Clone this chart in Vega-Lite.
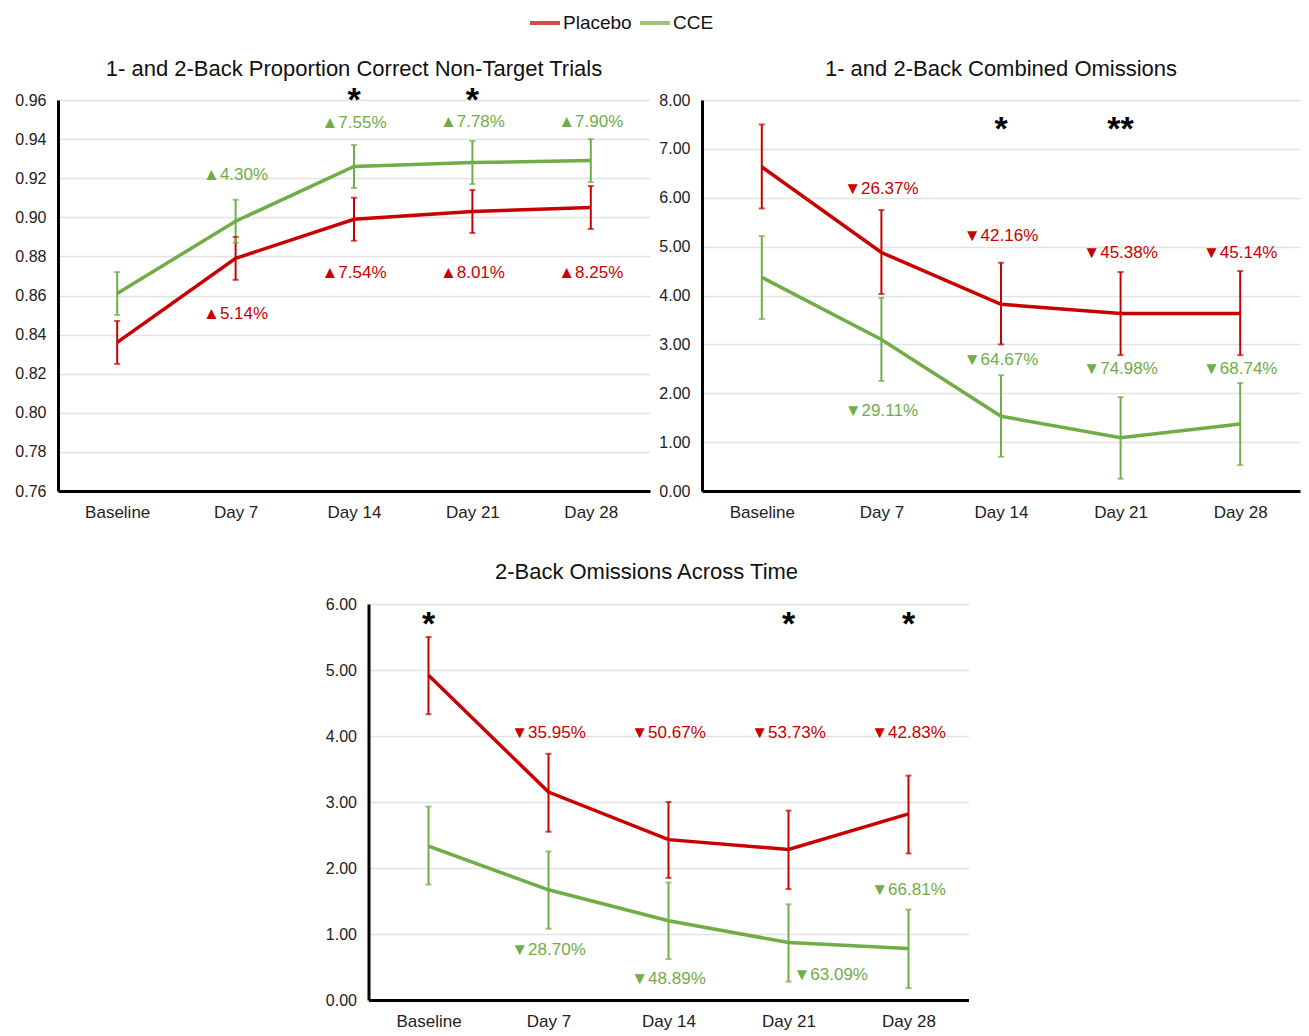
{
  "$schema": "https://vega.github.io/schema/vega-lite/v6.json",
  "background": "white",
  "padding": {"left": 13, "top": 6, "right": 5, "bottom": 5},
  "datasets": {
    "means": [
      {"panel": 1, "time": "Baseline", "group": "Placebo", "mean": 0.836, "lo": 0.825, "hi": 0.847},
      {"panel": 1, "time": "Day 7", "group": "Placebo", "mean": 0.879, "lo": 0.868, "hi": 0.890},
      {"panel": 1, "time": "Day 14", "group": "Placebo", "mean": 0.899, "lo": 0.888, "hi": 0.910},
      {"panel": 1, "time": "Day 21", "group": "Placebo", "mean": 0.903, "lo": 0.892, "hi": 0.914},
      {"panel": 1, "time": "Day 28", "group": "Placebo", "mean": 0.905, "lo": 0.894, "hi": 0.916},
      {"panel": 1, "time": "Baseline", "group": "CCE", "mean": 0.861, "lo": 0.850, "hi": 0.872},
      {"panel": 1, "time": "Day 7", "group": "CCE", "mean": 0.898, "lo": 0.887, "hi": 0.909},
      {"panel": 1, "time": "Day 14", "group": "CCE", "mean": 0.926, "lo": 0.915, "hi": 0.937},
      {"panel": 1, "time": "Day 21", "group": "CCE", "mean": 0.928, "lo": 0.917, "hi": 0.939},
      {"panel": 1, "time": "Day 28", "group": "CCE", "mean": 0.929, "lo": 0.918, "hi": 0.940},
      {"panel": 2, "time": "Baseline", "group": "Placebo", "mean": 6.63, "lo": 5.78, "hi": 7.50},
      {"panel": 2, "time": "Day 7", "group": "Placebo", "mean": 4.88, "lo": 4.03, "hi": 5.75},
      {"panel": 2, "time": "Day 14", "group": "Placebo", "mean": 3.82, "lo": 3.00, "hi": 4.67},
      {"panel": 2, "time": "Day 21", "group": "Placebo", "mean": 3.63, "lo": 2.78, "hi": 4.48},
      {"panel": 2, "time": "Day 28", "group": "Placebo", "mean": 3.63, "lo": 2.78, "hi": 4.50},
      {"panel": 2, "time": "Baseline", "group": "CCE", "mean": 4.37, "lo": 3.52, "hi": 5.22},
      {"panel": 2, "time": "Day 7", "group": "CCE", "mean": 3.10, "lo": 2.25, "hi": 3.95},
      {"panel": 2, "time": "Day 14", "group": "CCE", "mean": 1.53, "lo": 0.70, "hi": 2.37},
      {"panel": 2, "time": "Day 21", "group": "CCE", "mean": 1.09, "lo": 0.25, "hi": 1.92},
      {"panel": 2, "time": "Day 28", "group": "CCE", "mean": 1.37, "lo": 0.53, "hi": 2.21},
      {"panel": 3, "time": "Baseline", "group": "Placebo", "mean": 4.92, "lo": 4.33, "hi": 5.50},
      {"panel": 3, "time": "Day 7", "group": "Placebo", "mean": 3.15, "lo": 2.55, "hi": 3.73},
      {"panel": 3, "time": "Day 14", "group": "Placebo", "mean": 2.43, "lo": 1.85, "hi": 3.00},
      {"panel": 3, "time": "Day 21", "group": "Placebo", "mean": 2.28, "lo": 1.68, "hi": 2.87},
      {"panel": 3, "time": "Day 28", "group": "Placebo", "mean": 2.82, "lo": 2.22, "hi": 3.40},
      {"panel": 3, "time": "Baseline", "group": "CCE", "mean": 2.33, "lo": 1.75, "hi": 2.93},
      {"panel": 3, "time": "Day 7", "group": "CCE", "mean": 1.67, "lo": 1.08, "hi": 2.25},
      {"panel": 3, "time": "Day 14", "group": "CCE", "mean": 1.20, "lo": 0.62, "hi": 1.78},
      {"panel": 3, "time": "Day 21", "group": "CCE", "mean": 0.87, "lo": 0.28, "hi": 1.45},
      {"panel": 3, "time": "Day 28", "group": "CCE", "mean": 0.78, "lo": 0.18, "hi": 1.37}
    ],
    "labels": [
      {"panel": 1, "time": "Day 7", "group": "CCE", "label": "▲4.30%", "y": 0.9215, "side": "c"},
      {"panel": 1, "time": "Day 14", "group": "CCE", "label": "▲7.55%", "y": 0.948, "side": "c"},
      {"panel": 1, "time": "Day 21", "group": "CCE", "label": "▲7.78%", "y": 0.949, "side": "c"},
      {"panel": 1, "time": "Day 28", "group": "CCE", "label": "▲7.90%", "y": 0.9485, "side": "c"},
      {"panel": 1, "time": "Day 7", "group": "Placebo", "label": "▲5.14%", "y": 0.8505, "side": "c"},
      {"panel": 1, "time": "Day 14", "group": "Placebo", "label": "▲7.54%", "y": 0.8715, "side": "c"},
      {"panel": 1, "time": "Day 21", "group": "Placebo", "label": "▲8.01%", "y": 0.8715, "side": "c"},
      {"panel": 1, "time": "Day 28", "group": "Placebo", "label": "▲8.25%", "y": 0.8715, "side": "c"},
      {"panel": 2, "time": "Day 7", "group": "Placebo", "label": "▼26.37%", "y": 6.18, "side": "c"},
      {"panel": 2, "time": "Day 14", "group": "Placebo", "label": "▼42.16%", "y": 5.21, "side": "c"},
      {"panel": 2, "time": "Day 21", "group": "Placebo", "label": "▼45.38%", "y": 4.87, "side": "c"},
      {"panel": 2, "time": "Day 28", "group": "Placebo", "label": "▼45.14%", "y": 4.87, "side": "c"},
      {"panel": 2, "time": "Day 7", "group": "CCE", "label": "▼29.11%", "y": 1.64, "side": "c"},
      {"panel": 2, "time": "Day 14", "group": "CCE", "label": "▼64.67%", "y": 2.68, "side": "c"},
      {"panel": 2, "time": "Day 21", "group": "CCE", "label": "▼74.98%", "y": 2.49, "side": "c"},
      {"panel": 2, "time": "Day 28", "group": "CCE", "label": "▼68.74%", "y": 2.49, "side": "c"},
      {"panel": 3, "time": "Day 7", "group": "Placebo", "label": "▼35.95%", "y": 4.05, "side": "c"},
      {"panel": 3, "time": "Day 14", "group": "Placebo", "label": "▼50.67%", "y": 4.05, "side": "c"},
      {"panel": 3, "time": "Day 21", "group": "Placebo", "label": "▼53.73%", "y": 4.05, "side": "c"},
      {"panel": 3, "time": "Day 28", "group": "Placebo", "label": "▼42.83%", "y": 4.05, "side": "c"},
      {"panel": 3, "time": "Day 7", "group": "CCE", "label": "▼28.70%", "y": 0.76, "side": "c"},
      {"panel": 3, "time": "Day 14", "group": "CCE", "label": "▼48.89%", "y": 0.32, "side": "c"},
      {"panel": 3, "time": "Day 21", "group": "CCE", "label": "▼63.09%", "y": 0.38, "side": "r"},
      {"panel": 3, "time": "Day 28", "group": "CCE", "label": "▼66.81%", "y": 1.67, "side": "c"}
    ],
    "stars": [
      {"panel": 1, "time": "Day 14", "star": "*", "y": 0.9594},
      {"panel": 1, "time": "Day 21", "star": "*", "y": 0.9594},
      {"panel": 2, "time": "Day 14", "star": "*", "y": 7.38},
      {"panel": 2, "time": "Day 21", "star": "**", "y": 7.38},
      {"panel": 3, "time": "Baseline", "star": "*", "y": 5.68},
      {"panel": 3, "time": "Day 21", "star": "*", "y": 5.68},
      {"panel": 3, "time": "Day 28", "star": "*", "y": 5.68}
    ]
  },
  "vconcat": [
    {
      "hconcat": [
        {
          "width": 592,
          "height": 391,
          "title": {"text": "1- and 2-Back Proportion Correct Non-Target Trials", "offset": 3},
          "encoding": {
            "x": {"field": "time", "type": "ordinal", "sort": ["Baseline", "Day 7", "Day 14", "Day 21", "Day 28"], "scale": {"type": "point", "padding": 0.5}, "axis": {"title": null, "labelAngle": 0}}
          },
          "layer": [
            {
              "data": {"name": "means"},
              "transform": [{"filter": "datum.panel == 1"}],
              "mark": {"type": "line", "strokeWidth": 3.5},
              "encoding": {
                "y": {"field": "mean", "type": "quantitative", "scale": {"domain": [0.76, 0.96], "zero": false, "nice": false}, "axis": {"title": null, "values": [0.76, 0.78, 0.8, 0.82, 0.84, 0.86, 0.88, 0.9, 0.92, 0.94, 0.96], "tickCount": 11, "format": ".2f"}},
                "color": {"field": "group", "type": "nominal", "scale": {"domain": ["Placebo", "CCE"], "range": ["#C80000", "#70AD47"]}, "title": null}
              }
            },
            {
              "data": {"name": "means"},
              "transform": [{"filter": "datum.panel == 1"}],
              "mark": {"type": "rule", "strokeWidth": 2},
              "encoding": {"y": {"field": "lo", "type": "quantitative"}, "y2": {"field": "hi"}, "color": {"field": "group", "type": "nominal"}}
            },
            {
              "data": {"name": "means"},
              "transform": [{"filter": "datum.panel == 1"}, {"fold": ["lo", "hi"], "as": ["end", "v"]}],
              "mark": {"type": "tick", "size": 6, "thickness": 2},
              "encoding": {"y": {"field": "v", "type": "quantitative"}, "color": {"field": "group", "type": "nominal"}}
            },
            {
              "data": {"name": "labels"},
              "transform": [{"filter": "datum.panel == 1"}],
              "mark": {"type": "text", "fontSize": 17, "font": "Liberation Sans"},
              "encoding": {"y": {"field": "y", "type": "quantitative"}, "text": {"field": "label"}, "color": {"field": "group", "type": "nominal"}}
            },
            {
              "data": {"name": "stars"},
              "transform": [{"filter": "datum.panel == 1"}],
              "mark": {"type": "text", "fontSize": 34, "fontWeight": "bold", "color": "black", "font": "Liberation Sans", "baseline": "middle"},
              "encoding": {"y": {"field": "y", "type": "quantitative"}, "text": {"field": "star"}}
            }
          ]
        },
        {
          "width": 598,
          "height": 391,
          "title": {"text": "1- and 2-Back Combined Omissions", "offset": 11},
          "encoding": {
            "x": {"field": "time", "type": "ordinal", "sort": ["Baseline", "Day 7", "Day 14", "Day 21", "Day 28"], "scale": {"type": "point", "padding": 0.5}, "axis": {"title": null, "labelAngle": 0}}
          },
          "layer": [
            {
              "data": {"name": "means"},
              "transform": [{"filter": "datum.panel == 2"}],
              "mark": {"type": "line", "strokeWidth": 3.5},
              "encoding": {
                "y": {"field": "mean", "type": "quantitative", "scale": {"domain": [0, 8], "nice": false}, "axis": {"title": null, "values": [0, 1, 2, 3, 4, 5, 6, 7, 8], "tickCount": 9, "format": ".2f"}},
                "color": {"field": "group", "type": "nominal"}
              }
            },
            {
              "data": {"name": "means"},
              "transform": [{"filter": "datum.panel == 2"}],
              "mark": {"type": "rule", "strokeWidth": 2},
              "encoding": {"y": {"field": "lo", "type": "quantitative"}, "y2": {"field": "hi"}, "color": {"field": "group", "type": "nominal"}}
            },
            {
              "data": {"name": "means"},
              "transform": [{"filter": "datum.panel == 2"}, {"fold": ["lo", "hi"], "as": ["end", "v"]}],
              "mark": {"type": "tick", "size": 6, "thickness": 2},
              "encoding": {"y": {"field": "v", "type": "quantitative"}, "color": {"field": "group", "type": "nominal"}}
            },
            {
              "data": {"name": "labels"},
              "transform": [{"filter": "datum.panel == 2"}],
              "mark": {"type": "text", "fontSize": 17, "font": "Liberation Sans"},
              "encoding": {"y": {"field": "y", "type": "quantitative"}, "text": {"field": "label"}, "color": {"field": "group", "type": "nominal"}}
            },
            {
              "data": {"name": "stars"},
              "transform": [{"filter": "datum.panel == 2"}],
              "mark": {"type": "text", "fontSize": 34, "fontWeight": "bold", "color": "black", "font": "Liberation Sans", "baseline": "middle"},
              "encoding": {"y": {"field": "y", "type": "quantitative"}, "text": {"field": "star"}}
            }
          ]
        }
      ]
    },
    {
      "width": 600,
      "height": 396,
      "title": {"text": "2-Back Omissions Across Time", "offset": 12, "frame": "group", "dx": -22},
      "encoding": {
        "x": {"field": "time", "type": "ordinal", "sort": ["Baseline", "Day 7", "Day 14", "Day 21", "Day 28"], "scale": {"type": "point", "padding": 0.5}, "axis": {"title": null, "labelAngle": 0}}
      },
      "resolve": {"axis": {"y": "independent"}},
      "layer": [
        {
          "data": {"name": "means"},
          "transform": [{"filter": "datum.panel == 3"}],
          "mark": {"type": "line", "strokeWidth": 3.5},
          "encoding": {
            "y": {"field": "mean", "type": "quantitative", "scale": {"domain": [0, 6], "nice": false}, "axis": {"title": null, "orient": "left", "values": [0, 1, 2, 3, 4, 5, 6], "tickCount": 7, "format": ".2f", "minExtent": 48, "maxExtent": 48}},
            "color": {"field": "group", "type": "nominal"}
          }
        },
        {
          "data": {"name": "means"},
          "transform": [{"filter": "datum.panel == 3"}],
          "mark": {"type": "rule", "strokeWidth": 2},
          "encoding": {"y": {"field": "lo", "type": "quantitative", "axis": null}, "y2": {"field": "hi"}, "color": {"field": "group", "type": "nominal"}}
        },
        {
          "data": {"name": "means"},
          "transform": [{"filter": "datum.panel == 3"}, {"fold": ["lo", "hi"], "as": ["end", "v"]}],
          "mark": {"type": "tick", "size": 6, "thickness": 2},
          "encoding": {"y": {"field": "v", "type": "quantitative", "axis": null}, "color": {"field": "group", "type": "nominal"}}
        },
        {
          "data": {"name": "labels"},
          "transform": [{"filter": "datum.panel == 3 && datum.side == 'c'"}],
          "mark": {"type": "text", "fontSize": 17, "font": "Liberation Sans"},
          "encoding": {"y": {"field": "y", "type": "quantitative", "axis": null}, "text": {"field": "label"}, "color": {"field": "group", "type": "nominal"}}
        },
        {
          "data": {"name": "labels"},
          "transform": [{"filter": "datum.panel == 3 && datum.side == 'r'"}],
          "mark": {"type": "text", "fontSize": 17, "font": "Liberation Sans", "align": "left", "dx": 5},
          "encoding": {"y": {"field": "y", "type": "quantitative", "axis": null}, "text": {"field": "label"}, "color": {"field": "group", "type": "nominal"}}
        },
        {
          "data": {"name": "stars"},
          "transform": [{"filter": "datum.panel == 3"}],
          "mark": {"type": "text", "fontSize": 34, "fontWeight": "bold", "color": "black", "font": "Liberation Sans", "baseline": "middle"},
          "encoding": {"y": {"field": "y", "type": "quantitative", "axis": {"orient": "right", "title": null, "labels": false, "domain": false, "grid": false, "ticks": false, "minExtent": 21, "maxExtent": 21}}, "text": {"field": "star"}}
        }
      ]
    }
  ],
  "spacing": 41,
  "center": true,
  "config": {
    "font": "Liberation Sans",
    "view": {"stroke": null},
    "concat": {"spacing": 7},
    "title": {"fontSize": 22, "fontWeight": "normal", "color": "#111111", "font": "Liberation Sans"},
    "axis": {
      "domainColor": "#000000",
      "domainWidth": 3,
      "ticks": false,
      "gridColor": "#e2e2e2",
      "gridWidth": 1.5,
      "labelFont": "Liberation Sans",
      "labelFontSize": 16,
      "labelColor": "#222222",
      "labelPadding": 12,
      "labelOverlap": false
    },
    "axisY": {"minExtent": 45, "maxExtent": 45},
    "axisX": {"grid": false, "labelFontSize": 17, "labelPadding": 13},
    "legend": {
      "orient": "none",
      "direction": "horizontal",
      "legendX": 470,
      "legendY": -94,
      "symbolType": "stroke",
      "symbolStrokeWidth": 4,
      "symbolSize": 900,
      "labelFontSize": 19,
      "labelColor": "#111111",
      "labelFont": "Liberation Sans",
      "columnPadding": 0,
      "labelOffset": 1
    }
  }
}
